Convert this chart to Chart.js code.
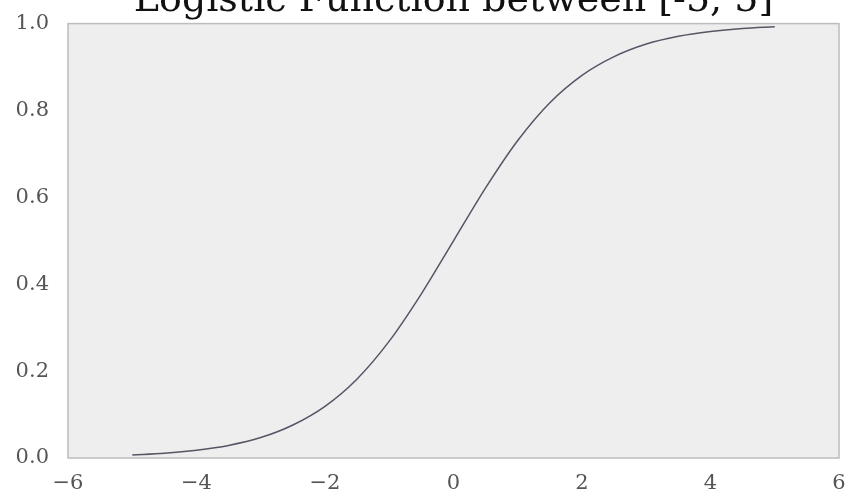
<!DOCTYPE html>
<html><head><meta charset="utf-8">
<script src="https://cdn.jsdelivr.net/npm/chart.js@4"></script>
<style>html,body{margin:0;padding:0;background:#fff}#wrap{width:854px;height:504px}</style>
</head><body><div id="wrap"><canvas id="c"></canvas></div>
<script>
const titleText = "Logistic Function between [-5, 5]";
const xValues = [-5,-4.5,-4,-3.5,-3,-2.5,-2,-1.5,-1,-0.5,0,0.5,1,1.5,2,2.5,3,3.5,4,4.5,5];
const yValues = [0.007,0.011,0.018,0.029,0.047,0.076,0.119,0.182,0.269,0.378,0.5,0.622,0.731,0.818,0.881,0.924,0.953,0.971,0.982,0.989,0.993];
const xTicks = [-6,-4,-2,0,2,4,6];
const yTicks = [0.0,0.2,0.4,0.6,0.8,1.0];

const points = xValues.map((x,i)=>({x:x,y:yValues[i]}));
const serif = "'DejaVu Serif', serif";

const bgPlugin = {
  id:'bg',
  beforeDraw(chart){
    const {ctx, chartArea:a} = chart;
    ctx.save();
    ctx.fillStyle = '#eeeeee';
    ctx.fillRect(a.left, a.top, a.right-a.left, a.bottom-a.top);
    ctx.restore();
  },
  afterDraw(chart){
    const {ctx, chartArea:a} = chart;
    ctx.save();
    ctx.strokeStyle = '#bcbcbc';
    ctx.lineWidth = 1.5;
    ctx.strokeRect(a.left, a.top, a.right-a.left, a.bottom-a.top);
    ctx.fillStyle = '#111';
    ctx.font = "38px " + serif;
    ctx.textAlign = 'center';
    ctx.textBaseline = 'alphabetic';
    ctx.fillText(titleText, (a.left+a.right)/2, 11);
    ctx.restore();
  }
};

new Chart(document.getElementById('c'), {
  type:'line',
  data:{datasets:[{data:points, borderColor:'#555566', borderWidth:1.5, pointRadius:0, fill:false, cubicInterpolationMode:'monotone'}]},
  options:{
    responsive:true, maintainAspectRatio:false, animation:false,
    layout:{padding:{left:0,right:15,top:18,bottom:0}},
    plugins:{legend:{display:false}, tooltip:{enabled:false}},
    scales:{
      x:{type:'linear', min:-6, max:6,
         afterBuildTicks(s){ s.ticks = xTicks.map(v=>({value:v})); },
         afterFit(s){ s.height = 46; },
         grid:{display:false}, border:{display:false},
         ticks:{font:{family:serif,size:21}, color:'#555', padding:5, maxRotation:0,
           callback:v=>String(v).replace('-','\u2212')}},
      y:{type:'linear', min:0, max:1,
         afterBuildTicks(s){ s.ticks = yTicks.map(v=>({value:v})); },
         afterFit(s){ s.width = 68; },
         grid:{display:false}, border:{display:false},
         ticks:{font:{family:serif,size:21}, color:'#555', padding:11,
           callback:v=>Number(v).toFixed(1)}}
    }
  },
  plugins:[bgPlugin]
});
</script></body></html>
